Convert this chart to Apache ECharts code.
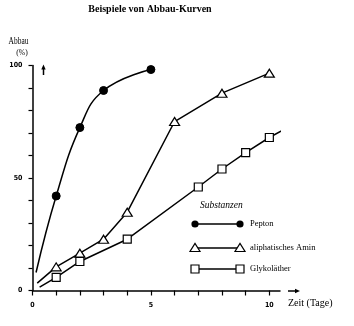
<!DOCTYPE html>
<html>
<head>
<meta charset="utf-8">
<script src="https://cdn.jsdelivr.net/npm/echarts@6/dist/echarts.min.js"></script>
<style>html,body{margin:0;padding:0;background:#fff}#c{width:354px;height:326px}</style>
</head>
<body>
<div id="c"></div>
<script>
// Tick labels
const xTickValues = [0,1,2,3,4,5,6,7,8,9,10];
const xLabelValues = [0,5,10];
const yTickValues = [0,10,20,30,40,50,60,70,80,90,100];
const yLabelValues = [0,50,100];

// Pepton (filled circles); first point = start of drawn curve (no marker)
const peptonX = [0.15, 1, 2, 3, 5];
const peptonY = [8, 42, 72.4, 88.9, 98.2];
const peptonMarked = [0, 1, 1, 1, 1];

// aliphatisches Amin (open triangles)
const aminX = [0.2, 1, 2, 3, 4, 6, 8, 10];
const aminY = [3.3, 10.5, 16.6, 22.8, 34.8, 75.1, 87.7, 96.6];
const aminMarked = [0, 1, 1, 1, 1, 1, 1, 1];

// Glykoläther (open squares); last point = end of drawn line (no marker)
const glykX = [0.3, 1, 2, 4, 7, 8, 9, 10, 11.05];
const glykY = [1.5, 5.8, 12.9, 22.8, 46, 54, 61.3, 68, 74];
const glykMarked = [0, 1, 1, 1, 1, 1, 1, 1, 0];

const legendNames = ['Pepton', 'aliphatisches Amin', 'Glykoläther'];

function build(xs, ys, marked, symbol) {
  return xs.map((x, i) => ({ value: [x, ys[i]], symbol: marked[i] ? symbol : 'none' }));
}

const serif = '"Liberation Serif", "DejaVu Serif", serif';
const chart = echarts.init(document.getElementById('c'), null, { renderer: 'canvas' });

function txt(x, y, text, font, align, sx) {
  return { type: 'text', x: x, y: y, scaleX: sx || 1, silent: true,
    style: { text: text, font: font, fill: '#000', textAlign: align || 'left', textVerticalAlign: 'middle', align: align || 'left', verticalAlign: 'middle' } };
}

const lgX1 = 195, lgX2 = 240;
const lgRows = [224, 248, 269];
const graphics = [
  txt(150, 9.5, 'Beispiele von Abbau-Kurven', 'bold 10px ' + serif, 'center'),
  txt(18.5, 41.5, 'Abbau', '9.5px ' + serif, 'center', 0.78),
  txt(22, 53, '(%)', '9px ' + serif, 'center', 0.85),
  txt(288, 303, 'Zeit (Tage)', '10px ' + serif, 'left'),
  txt(200, 205, 'Substanzen', 'italic 9.5px ' + serif, 'left'),
  // axis arrows
  { type: 'line', silent: true, shape: { x1: 43.5, y1: 75, x2: 43.5, y2: 68 }, style: { stroke: '#000', lineWidth: 1.5 } },
  { type: 'polygon', silent: true, shape: { points: [[41.3, 69.5], [45.7, 69.5], [43.5, 64.5]] }, style: { fill: '#000' } },
  { type: 'line', silent: true, shape: { x1: 288, y1: 291, x2: 296, y2: 291 }, style: { stroke: '#000', lineWidth: 1.5 } },
  { type: 'polygon', silent: true, shape: { points: [[295, 288.8], [295, 293.2], [300, 291]] }, style: { fill: '#000' } }
];
lgRows.forEach((y, i) => {
  graphics.push({ type: 'line', silent: true, shape: { x1: lgX1, y1: y, x2: lgX2, y2: y }, style: { stroke: '#000', lineWidth: 1.5 } });
  [lgX1, lgX2].forEach(x => {
    if (i === 0) graphics.push({ type: 'circle', silent: true, shape: { cx: x, cy: y, r: 3.6 }, style: { fill: '#000' } });
    if (i === 1) graphics.push({ type: 'polygon', silent: true, shape: { points: [[x - 5, y + 3.5], [x + 5, y + 3.5], [x, y - 4.5]] }, style: { fill: '#fff', stroke: '#000', lineWidth: 1.2 } });
    if (i === 2) graphics.push({ type: 'rect', silent: true, shape: { x: x - 4, y: y - 4, width: 8, height: 8 }, style: { fill: '#fff', stroke: '#000', lineWidth: 1.2 } });
  });
  graphics.push(txt(250, y, legendNames[i], '8.5px ' + serif, 'left'));
});

const tickFont = { fontFamily: '"Liberation Sans Narrow", "DejaVu Sans Condensed", "Liberation Sans", sans-serif', fontWeight: 'bold', fontSize: 7, color: '#000' };

chart.setOption({
  animation: false,
  backgroundColor: '#fff',
  grid: { left: 32.5, top: 65.5, width: 247.5, height: 225, containLabel: false },
  xAxis: {
    type: 'value', min: 0, max: 10.45,
    axisLine: { show: true, lineStyle: { color: '#000', width: 1.5 } },
    axisTick: { show: true, inside: false, length: 5, customValues: xTickValues, lineStyle: { color: '#000', width: 1.2 } },
    axisLabel: Object.assign({ customValues: xLabelValues, margin: 11 }, tickFont),
    splitLine: { show: false }
  },
  yAxis: {
    type: 'value', min: 0, max: 100,
    axisLine: { show: true, lineStyle: { color: '#000', width: 1.5 } },
    axisTick: { show: true, inside: false, length: 4, customValues: yTickValues, lineStyle: { color: '#000', width: 1.2 } },
    axisLabel: Object.assign({ customValues: yLabelValues, margin: 10 }, tickFont),
    splitLine: { show: false }
  },
  graphic: graphics,
  series: [
    { type: 'line', name: legendNames[0], data: build(peptonX, peptonY, peptonMarked, 'circle'),
      smooth: 0.45, clip: false, symbolSize: 8, showAllSymbol: true,
      lineStyle: { color: '#000', width: 1.5 }, itemStyle: { color: '#000', borderColor: '#000' } },
    { type: 'line', name: legendNames[1], data: build(aminX, aminY, aminMarked, 'triangle'),
      clip: false, symbolSize: [10, 8], showAllSymbol: true,
      lineStyle: { color: '#000', width: 1.5 }, itemStyle: { color: '#fff', borderColor: '#000', borderWidth: 1.2 } },
    { type: 'line', name: legendNames[2], data: build(glykX, glykY, glykMarked, 'rect'),
      clip: false, symbolSize: 8, showAllSymbol: true,
      lineStyle: { color: '#000', width: 1.5 }, itemStyle: { color: '#fff', borderColor: '#000', borderWidth: 1.2 } }
  ]
});
</script>
</body>
</html>
